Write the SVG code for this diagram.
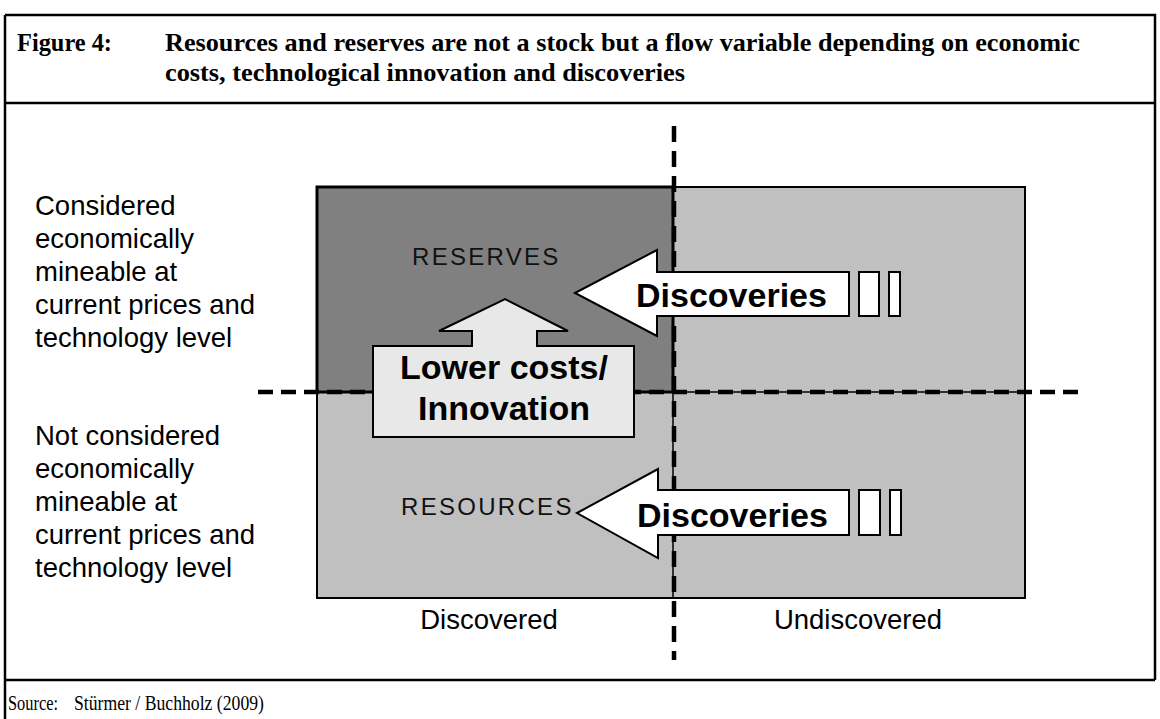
<svg xmlns="http://www.w3.org/2000/svg" width="1160" height="719" viewBox="0 0 1160 719">
<style>
.frame{fill:none;stroke:#000;stroke-width:2.5}
.title{font-family:"Liberation Serif",serif;font-weight:bold;font-size:26px;fill:#000}
.src{font-family:"Liberation Serif",serif;font-size:21px;fill:#000}
.lbl{font-family:"Liberation Sans",Arial,sans-serif;font-size:27.5px;fill:#000}
.cap{font-family:"Liberation Sans",Arial,sans-serif;font-size:24px;letter-spacing:2.3px;fill:#111}
.big{font-family:"Liberation Sans",Arial,sans-serif;font-weight:bold;font-size:34px;fill:#000}
.arrow{fill:#fff;stroke:#000;stroke-width:2}
.dash{fill:none;stroke:#000}
</style>
<rect width="1160" height="719" fill="#fff"/>
<g id="frame">
<path class="frame" d="M5 15 H1155 V680 M5 15 V719 M5 103 H1155 M5 680 H1155"/>
</g>
<g id="title">
<text class="title" x="17" y="51" textLength="95" lengthAdjust="spacingAndGlyphs">Figure 4:</text>
<text class="title" x="165" y="51" textLength="915" lengthAdjust="spacingAndGlyphs">Resources and reserves are not a stock but a flow variable depending on economic</text>
<text class="title" x="165" y="81" textLength="520" lengthAdjust="spacingAndGlyphs">costs, technological innovation and discoveries</text>
</g>
<g id="resources-area">
<rect x="317" y="187" width="708" height="411" fill="#c0c0c0" stroke="#000" stroke-width="2"/>
<line x1="673" y1="187" x2="673" y2="598" stroke="#000" stroke-width="1.5"/>
<line x1="317" y1="392" x2="1025" y2="392" stroke="#000" stroke-width="1.5"/>
</g>
<g id="reserves">
<rect x="317" y="187" width="356" height="205" fill="#808080" stroke="#000" stroke-width="3"/>
<text class="cap" x="412" y="265">RESERVES</text>
</g>
<g id="resources-label">
<text class="cap" x="401" y="515">RESOURCES</text>
</g>
<g id="connectors">
<line class="dash" x1="258" y1="392" x2="1082" y2="392" stroke-width="4.5" stroke-dasharray="15 8"/>
<line class="dash" x1="674" y1="126" x2="674" y2="660" stroke-width="4.5" stroke-dasharray="16 9"/>
</g>
<g id="arrow-lower-costs">
<path d="M373 346 H472 V331 H439 L505 299 L568 331 H537 V346 H634 V437 H373 Z" fill="#e8e8e8" stroke="#000" stroke-width="2"/>
<text class="big" x="504" y="379" text-anchor="middle">Lower costs/</text>
<text class="big" x="504" y="420" text-anchor="middle">Innovation</text>
</g>
<g id="arrow-discoveries-top">
<path class="arrow" d="M575 293 L657 250 V272 H849 V316 H657 V336 Z"/>
<rect class="arrow" x="859" y="272" width="20" height="44"/>
<rect class="arrow" x="889" y="272" width="11" height="44"/>
<text class="big" x="636" y="307">Discoveries</text>
</g>
<g id="arrow-discoveries-bottom">
<path class="arrow" d="M577 513 L658 469 V490 H849 V535 H658 V558 Z"/>
<rect class="arrow" x="859" y="490" width="21" height="45"/>
<rect class="arrow" x="890" y="490" width="11" height="45"/>
<text class="big" x="637" y="527">Discoveries</text>
</g>
<g id="row-labels">
<text class="lbl" x="35" y="215">Considered</text>
<text class="lbl" x="35" y="248">economically</text>
<text class="lbl" x="35" y="281">mineable at</text>
<text class="lbl" x="35" y="314">current prices and</text>
<text class="lbl" x="35" y="347">technology level</text>
<text class="lbl" x="35" y="445">Not considered</text>
<text class="lbl" x="35" y="478">economically</text>
<text class="lbl" x="35" y="511">mineable at</text>
<text class="lbl" x="35" y="544">current prices and</text>
<text class="lbl" x="35" y="577">technology level</text>
</g>
<g id="col-labels">
<text class="lbl" x="489" y="629" text-anchor="middle">Discovered</text>
<text class="lbl" x="858" y="629" text-anchor="middle">Undiscovered</text>
</g>
<g id="source">
<text class="src" x="8" y="710" textLength="50" lengthAdjust="spacingAndGlyphs">Source:</text>
<text class="src" x="74" y="710" textLength="190" lengthAdjust="spacingAndGlyphs">Stürmer / Buchholz (2009)</text>
</g>
</svg>
